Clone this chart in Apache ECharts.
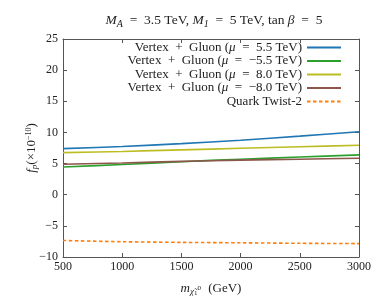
<!DOCTYPE html>
<html><head><meta charset="utf-8">
<script src="https://cdn.jsdelivr.net/npm/echarts@6/dist/echarts.min.js"></script>
<style>html,body{margin:0;padding:0;background:#fff}#c{width:382px;height:297px}</style>
</head><body><div id="c"></div>
<script>
const masses = [500, 1000, 1500, 2000, 2500, 3000];
const vgMu55 = [7.4, 7.75, 8.2, 8.75, 9.4, 10.1];
const vgMuM55 = [4.45, 4.85, 5.3, 5.7, 6.05, 6.4];
const vgMu80 = [6.75, 6.95, 7.2, 7.45, 7.7, 7.93];
const vgMuM80 = [4.9, 5.1, 5.35, 5.55, 5.7, 5.85];
const twist2 = [-7.35, -7.55, -7.65, -7.72, -7.8, -7.85];
const xTicks = [500, 1000, 1500, 2000, 2500, 3000];
const yTicks = [-10, -5, 0, 5, 10, 15, 20, 25];
const names = ['mu55', 'muM55', 'mu80', 'muM80', 'tw2'];
const labels = {
  mu55: 'Vertex  +  Gluon ({i|μ}  =  5.5 TeV)',
  muM55: 'Vertex  +  Gluon ({i|μ}  =  −5.5 TeV)',
  mu80: 'Vertex  +  Gluon ({i|μ}  =  8.0 TeV)',
  muM80: 'Vertex  +  Gluon ({i|μ}  =  −8.0 TeV)',
  tw2: 'Quark Twist-2'
};
const serif = 'Liberation Serif';
const colors = ['#1f77b4', '#2ca02c', '#bcbd22', '#8c564b', '#ff7f0e'];
const seriesData = [vgMu55, vgMuM55, vgMu80, vgMuM80, twist2];
const chart = echarts.init(document.getElementById('c'), null, {renderer: 'canvas'});
const axisCommon = {
  axisLine: {onZero: false, lineStyle: {color: '#555', width: 1}},
  axisTick: {inside: true, length: 4, lineStyle: {color: '#555'}},
  splitLine: {show: false}
};
chart.setOption({
  animation: false,
  textStyle: {fontFamily: serif},
  title: {
    text: '{i|M}{s|A}  =  3.5 TeV, {i|M}{s|1}  =  5 TeV, tan {i|β}  =  5',
    left: 209, top: 7, textAlign: 'center',
    textStyle: {
      fontFamily: serif, fontSize: 13.5, fontWeight: 'normal', color: '#222',
      rich: {
        i: {fontFamily: serif, fontStyle: 'italic', fontSize: 13.5, color: '#222'},
        s: {fontFamily: serif, fontStyle: 'italic', fontSize: 10, verticalAlign: 'bottom', padding: [7, 0, 0, 0], color: '#222'}
      }
    }
  },
  legend: {
    orient: 'vertical', right: 35, top: 36, align: 'right',
    itemWidth: 34, itemHeight: 8, itemGap: 0.5,
    itemStyle: {opacity: 0},
    data: names,
    formatter: n => labels[n],
    textStyle: {
      fontFamily: serif, fontSize: 13, color: '#222', lineHeight: 12,
      rich: {i: {fontFamily: serif, fontStyle: 'italic', fontSize: 13, color: '#222', lineHeight: 12}}
    }
  },
  grid: {left: 63, right: 23, top: 39, bottom: 40, outerBoundsMode: 'none', containLabel: false},
  xAxis: [
    Object.assign({
      type: 'value', min: 500, max: 3000, interval: 500,
      name: '{i|m}{s|χ̃}{ss|1}{sp|0} (GeV)', nameLocation: 'middle', nameGap: 24, nameMoveOverlap: false,
      nameTextStyle: {
        fontFamily: serif, fontSize: 13, color: '#222',
        rich: {
          i: {fontFamily: serif, fontStyle: 'italic', fontSize: 13, color: '#222'},
          s: {fontFamily: serif, fontStyle: 'italic', fontSize: 9, color: '#222', padding: [6, 0, 0, 0]},
          ss: {fontFamily: serif, fontSize: 7, color: '#222', padding: [9, 0, 0, 0]},
          sp: {fontFamily: serif, fontSize: 7, color: '#222', padding: [0, 4, 2, 0]}
        }
      },
      axisLabel: {fontFamily: serif, fontSize: 12, color: '#222', margin: 4,
        formatter: v => xTicks.includes(v) ? String(v) : ''}
    }, axisCommon),
    Object.assign({
      type: 'value', position: 'top', min: 500, max: 3000, interval: 500,
      axisLabel: {show: false}
    }, axisCommon)
  ],
  yAxis: [
    Object.assign({
      type: 'value', min: -10, max: 25, interval: 5,
      name: '{i|f}{s|p}(×10{sp|−10})', nameLocation: 'middle', nameGap: 24, nameRotate: 90, nameMoveOverlap: false,
      nameTextStyle: {
        fontFamily: serif, fontSize: 13, color: '#222',
        rich: {
          i: {fontFamily: serif, fontStyle: 'italic', fontSize: 13, color: '#222'},
          s: {fontFamily: serif, fontStyle: 'italic', fontSize: 9, color: '#222', padding: [6, 0, 0, 0]},
          sp: {fontFamily: serif, fontSize: 8, color: '#222', padding: [0, 0, 6, 0]}
        }
      },
      axisLabel: {fontFamily: serif, fontSize: 12, color: '#222', margin: 5,
        formatter: v => yTicks.includes(v) ? (v < 0 ? '−' + Math.abs(v) : String(v)) : ''}
    }, axisCommon),
    Object.assign({
      type: 'value', position: 'right', min: -10, max: 25, interval: 5,
      axisLabel: {show: false}
    }, axisCommon)
  ],
  series: names.map((n, k) => ({
    name: n, type: 'line', smooth: 0.3, symbol: 'none',
    data: masses.map((m, j) => [m, seriesData[k][j]]),
    lineStyle: {color: colors[k], width: 1.6, type: k === 4 ? [3.5, 2.5] : 'solid'},
    itemStyle: {color: colors[k]}
  }))
});
</script></body></html>
